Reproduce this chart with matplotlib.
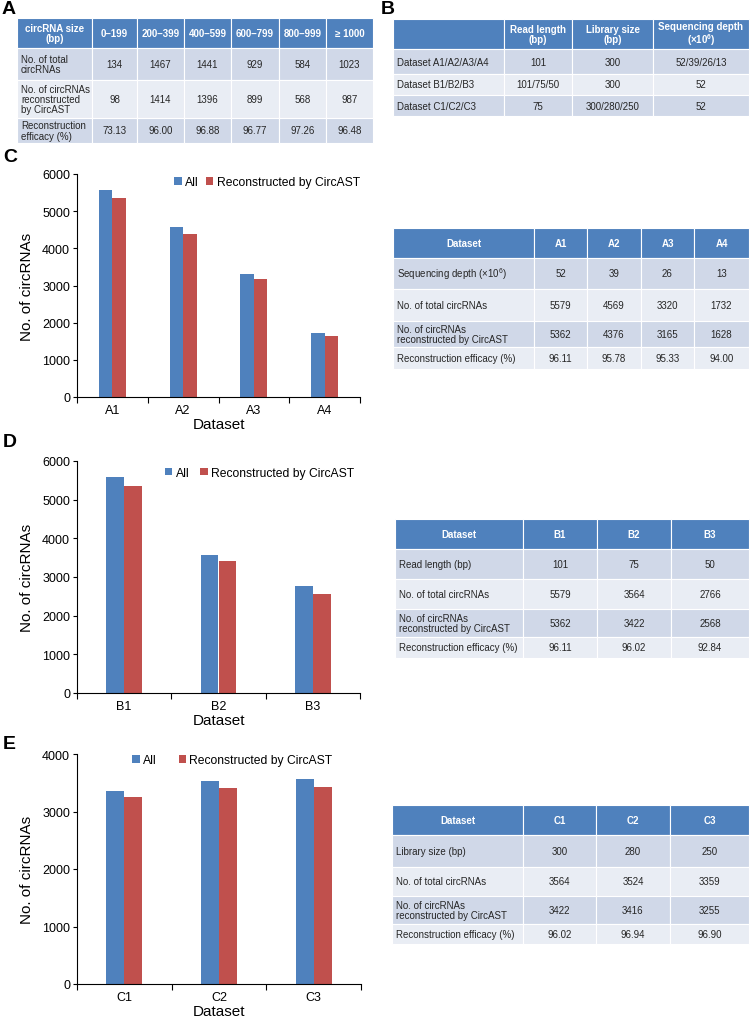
import numpy as np
import matplotlib
matplotlib.use("Agg")
import matplotlib.pyplot as plt
from matplotlib.patches import Rectangle

plt.rcParams['font.family'] = ['Liberation Sans', 'DejaVu Sans']
plt.rcParams['mathtext.fontset'] = 'custom'
plt.rcParams['mathtext.rm'] = 'Liberation Sans'
plt.rcParams['mathtext.bf'] = 'Liberation Sans:bold'

# ---- data ----
size_bins = ["0\u2013199", "200\u2013399", "400\u2013599", "600\u2013799", "800\u2013999", "\u2265 1000"]
total_by_size = [134, 1467, 1441, 929, 584, 1023]
recon_by_size = [98, 1414, 1396, 899, 568, 987]
eff_by_size = ["73.13", "96.00", "96.88", "96.77", "97.26", "96.48"]

sets_names = ["Dataset A1/A2/A3/A4", "Dataset B1/B2/B3", "Dataset C1/C2/C3"]
sets_readlen = ["101", "101/75/50", "75"]
sets_libsize = ["300", "300", "300/280/250"]
sets_depth = ["52/39/26/13", "52", "52"]

datasets_a = ["A1", "A2", "A3", "A4"]
depth_a = [52, 39, 26, 13]
total_a = [5579, 4569, 3320, 1732]
recon_a = [5362, 4376, 3165, 1628]
eff_a = ["96.11", "95.78", "95.33", "94.00"]

datasets_b = ["B1", "B2", "B3"]
readlen_b = [101, 75, 50]
total_b = [5579, 3564, 2766]
recon_b = [5362, 3422, 2568]
eff_b = ["96.11", "96.02", "92.84"]

datasets_c = ["C1", "C2", "C3"]
libsize_c = [300, 280, 250]
total_c = [3564, 3524, 3359]
recon_c = [3422, 3416, 3255]
eff_c = ["96.02", "96.94", "96.90"]
# bars in panel E as drawn in the figure
bar_total_c = [3359, 3524, 3564]
bar_recon_c = [3255, 3416, 3422]

HEAD = "#4F81BD"
DARK = "#D0D8E8"
LIGHT = "#E9EDF4"
BLUE = "#4F81BD"
RED = "#C0504D"
TXT = "#262626"

fig = plt.figure(figsize=(7.51, 10.2), dpi=100)
bg = fig.add_axes([0, 0, 1, 1])
bg.set_xlim(0, 751)
bg.set_ylim(1020, 0)
bg.axis("off")


def draw_table(xe, ye, header, rows, fs=7.0):
    for j, h in enumerate(header):
        bg.add_patch(Rectangle((xe[j], ye[0]), xe[j + 1] - xe[j], ye[1] - ye[0],
                               facecolor=HEAD, edgecolor="white", lw=0.8))
        bg.text((xe[j] + xe[j + 1]) / 2, (ye[0] + ye[1]) / 2, h, ha="center", va="center",
                color="white", fontsize=fs, fontweight="bold", linespacing=1.05)
    for i, row in enumerate(rows):
        col = DARK if i % 2 == 0 else LIGHT
        for j, val in enumerate(row):
            bg.add_patch(Rectangle((xe[j], ye[i + 1]), xe[j + 1] - xe[j], ye[i + 2] - ye[i + 1],
                                   facecolor=col, edgecolor="white", lw=0.8))
            yc = (ye[i + 1] + ye[i + 2]) / 2
            if j == 0:
                bg.text(xe[j] + 4, yc, val, ha="left", va="center", color=TXT,
                        fontsize=fs, linespacing=1.05)
            else:
                bg.text((xe[j] + xe[j + 1]) / 2, yc, str(val), ha="center", va="center",
                        color=TXT, fontsize=fs)


def bar_panel(rect, cats, total, recon, ymax, leg_x, leg_y, colsp):
    ax = fig.add_axes(rect)
    x = np.arange(len(cats))
    w = 0.19
    ax.bar(x - w / 2, total, w, color=BLUE, label="All")
    ax.bar(x + w / 2, recon, w, color=RED, label="Reconstructed by CircAST")
    ax.set_xlim(-0.5, len(cats) - 0.5)
    ax.set_ylim(0, ymax)
    ax.set_yticks(np.arange(0, ymax + 1, 1000))
    ax.set_xticks(x)
    ax.set_xticklabels(cats)
    ax.set_xticks(np.arange(-0.5, len(cats), 1.0), minor=True)
    ax.tick_params(axis="x", which="major", length=0, labelsize=9, pad=5)
    ax.tick_params(axis="x", which="minor", length=4, width=0.8, direction="out")
    ax.tick_params(axis="y", length=3, width=0.8, labelsize=9, pad=2)
    for s in ["top", "right"]:
        ax.spines[s].set_visible(False)
    for s in ["left", "bottom"]:
        ax.spines[s].set_linewidth(0.8)
    ax.set_xlabel("Dataset", fontsize=11, labelpad=1)
    ax.set_ylabel("No. of circRNAs", fontsize=11, labelpad=6)
    ax.legend(loc="upper right", bbox_to_anchor=(leg_x, leg_y), ncol=2, frameon=False,
              fontsize=8.7, handlelength=0.6, handleheight=0.6, handletextpad=0.3,
              columnspacing=colsp, borderaxespad=0, borderpad=0)
    return ax


# ---- panel A table ----
draw_table([17, 92, 137, 184, 231, 279, 326, 373], [19, 49, 81, 119, 144],
           ["circRNA size\n(bp)"] + size_bins,
           [["No. of total\ncircRNAs"] + total_by_size,
            ["No. of circRNAs\nreconstructed\nby CircAST"] + recon_by_size,
            ["Reconstruction\nefficacy (%)"] + eff_by_size])

# ---- panel B table ----
draw_table([393, 504, 572, 653, 749], [20, 50, 75, 96, 117],
           ["", "Read length\n(bp)", "Library size\n(bp)", "Sequencing depth\n(\u00d710$^{\\mathbf{6}}$)"],
           [[n, r, l, d] for n, r, l, d in zip(sets_names, sets_readlen, sets_libsize, sets_depth)])

# ---- panel C ----
bar_panel([77 / 751, 1 - 398 / 1020, 283 / 751, 223 / 1020], datasets_a, total_a, recon_a,
          6000, 1.0, 0.99, 0.6)
draw_table([393, 534, 587, 641, 694, 749], [229, 259, 290, 322, 348, 370],
           ["Dataset"] + datasets_a,
           [["Sequencing depth (\u00d710$^6$)"] + depth_a,
            ["No. of total circRNAs"] + total_a,
            ["No. of circRNAs\nreconstructed by CircAST"] + recon_a,
            ["Reconstruction efficacy (%)"] + eff_a])

# ---- panel D ----
bar_panel([77 / 751, 1 - 694 / 1020, 283 / 751, 232 / 1020], datasets_b, total_b, recon_b,
          6000, 0.98, 0.975, 0.9)
draw_table([395, 523, 597, 671, 749], [520, 550, 580, 610, 638, 659],
           ["Dataset"] + datasets_b,
           [["Read length (bp)"] + readlen_b,
            ["No. of total circRNAs"] + total_b,
            ["No. of circRNAs\nreconstructed by CircAST"] + recon_b,
            ["Reconstruction efficacy (%)"] + eff_b])

# ---- panel E ----
bar_panel([77 / 751, 1 - 985 / 1020, 284 / 751, 230 / 1020], datasets_c, bar_total_c, bar_recon_c,
          4000, 0.9, 1.0, 1.8)
draw_table([392, 523, 596, 670, 749], [806, 836, 868, 897, 925, 945],
           ["Dataset"] + datasets_c,
           [["Library size (bp)"] + libsize_c,
            ["No. of total circRNAs"] + total_c,
            ["No. of circRNAs\nreconstructed by CircAST"] + recon_c,
            ["Reconstruction efficacy (%)"] + eff_c])

# panel letters
for lab, (px, py) in zip("ABCDE", [(2, 10), (381, 10), (3, 157), (3, 443), (3, 745)]):
    bg.text(px, py, lab, fontsize=14, fontweight="bold", ha="left", va="center")

fig.savefig("out.png", dpi=100)
